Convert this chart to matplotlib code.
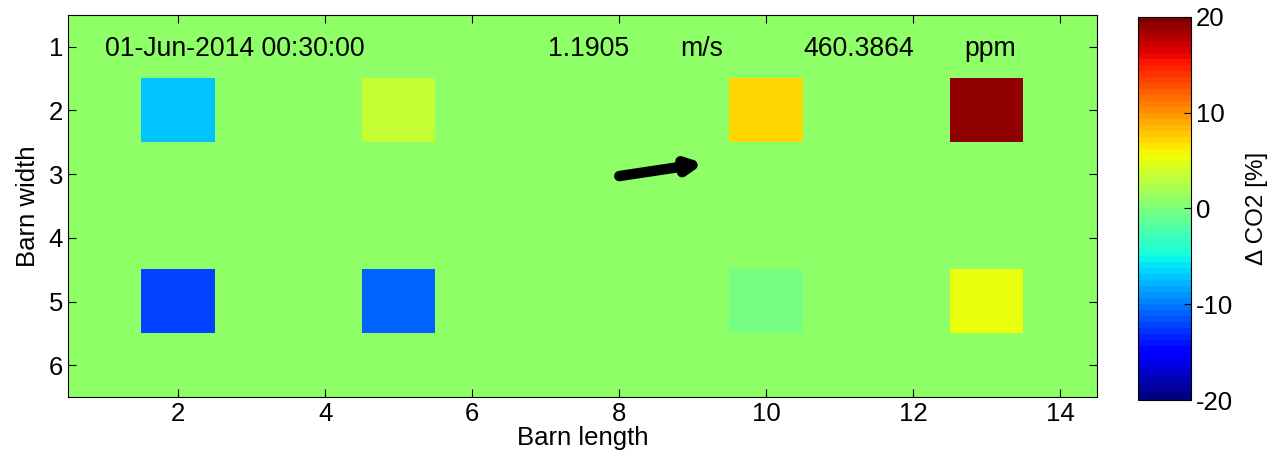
import numpy as np
import matplotlib.pyplot as plt

plt.rcParams['font.family'] = ['Liberation Sans', 'DejaVu Sans']
plt.rcParams['axes.unicode_minus'] = False

# barn grid: 6 rows (width) x 14 columns (length), delta CO2 in %
n_rows, n_cols = 6, 14
background = 1.0
sensor_col = [2, 5, 10, 13, 2, 5, 10, 13]
sensor_row = [2, 2, 2, 2, 5, 5, 5, 5]
sensor_val = [-7.5, 3.3, 7.0, 18.8, -12.5, -11.0, -0.5, 5.0]

# wind arrow (start / end in grid units) and header values
wind_start = (8.0, 3.03)
wind_end = (9.15, 2.83)
stamp = '01-Jun-2014 00:30:00'
wind_speed = '1.1905'
co2_ppm = '460.3864'

grid = np.full((n_rows, n_cols), background)
for c, r, v in zip(sensor_col, sensor_row, sensor_val):
    grid[r - 1, c - 1] = v

fig = plt.figure(figsize=(12.72, 4.69), dpi=100)
ax = fig.add_axes([68/1272, 1 - 397/469, (1097-68)/1272, (397-15)/469])
cax = fig.add_axes([1138/1272, 1 - 400/469, 53/1272, 383/469])

im = ax.imshow(grid, cmap=plt.get_cmap('jet', 64), vmin=-20, vmax=20,
               extent=[0.5, n_cols + 0.5, n_rows + 0.5, 0.5],
               aspect='auto', interpolation='nearest')

ax.annotate('', xy=wind_end, xytext=wind_start,
            arrowprops=dict(arrowstyle='-|>,head_length=0.8,head_width=0.4',
                            color='black', lw=7.5, shrinkA=0, shrinkB=0))

fs = 18.5
hs = 19.2
ax.text(1.0, 1.03, stamp, fontsize=hs, va='center')
ax.text(7.03, 1.03, wind_speed, fontsize=hs, va='center')
ax.text(8.83, 1.03, 'm/s', fontsize=hs, va='center')
ax.text(10.5, 1.03, co2_ppm, fontsize=hs, va='center')
ax.text(12.7, 1.03, 'ppm', fontsize=hs, va='center')

ax.set_xticks(range(2, 15, 2))
ax.set_yticks(range(1, 7))
ax.tick_params(direction='in', top=True, right=True, labelsize=fs, length=6)
ax.set_xlabel('Barn length', fontsize=fs, labelpad=0)
ax.set_ylabel('Barn width', fontsize=fs, labelpad=6)

cb = fig.colorbar(im, cax=cax, ticks=[-20, -10, 0, 10, 20])
cb.ax.tick_params(direction='in', labelsize=fs, length=5)
cb.set_label('Δ CO2 [%]', fontsize=17.5, labelpad=9)
cb.outline.set_linewidth(0.8)

fig.savefig('out.png', dpi=100)
